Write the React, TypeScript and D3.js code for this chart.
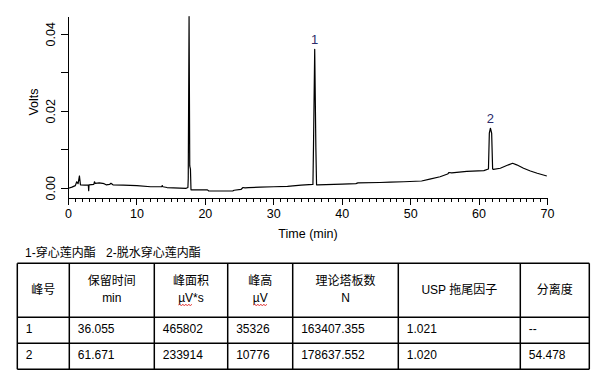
import React from 'react';
import * as d3 from 'd3';

// chromatogram trace: [time (min), signal (V)]
const trace: [number, number][] = [
  [0, 0.0], [0.5, 0.0003], [1.0, 0.0007], [1.2, 0.0017], [1.4, 0.0012], [1.6, 0.0032],
  [1.75, 0.0009], [2.4, 0.0008], [2.9, 0.0008], [2.95, -0.0006], [3.0, 0.0009],
  [3.7, 0.001], [3.8, 0.0017], [3.9, 0.0013], [4.5, 0.0014], [5.2, 0.0012], [5.5, 0.0009],
  [6.0, 0.001], [6.2, 0.0013], [6.5, 0.0009], [8.0, 0.0008], [10.0, 0.0007], [12.0, 0.0004],
  [13.6, 0.0004], [13.7, 0.0007], [13.8, 0.0004], [14.4, 0.0002], [17.2, 0.0],
  [17.45, 0.0002], [17.5, 0.0026], [17.62, 0.0446], [17.72, 0.0058], [17.82, 0.005],
  [17.9, -0.0004], [20.3, -0.0004], [20.5, -0.0007], [24.0, -0.0007], [24.2, -0.0005],
  [25.2, -0.0003], [25.5, 0.0002], [25.8, 0.0001], [26.3, 0.0002], [28.0, 0.0003],
  [30.0, 0.0004], [32.0, 0.0005], [34.0, 0.0008], [35.72, 0.001], [35.8, 0.0105],
  [35.98, 0.0361], [36.15, 0.0105], [36.25, 0.0009], [36.4, 0.0009], [40.0, 0.0011],
  [42.0, 0.0012], [42.3, 0.0014], [45.5, 0.0015], [47.0, 0.0016], [49.0, 0.0017],
  [51.6, 0.0019], [52.8, 0.0024], [54.3, 0.003], [55.4, 0.0037], [55.6, 0.0041],
  [56.0, 0.004], [58.2, 0.0044], [60.7, 0.0046], [61.37, 0.005], [61.5, 0.0143],
  [61.66, 0.0156], [61.84, 0.0143], [61.98, 0.005], [62.1, 0.0049], [63.1, 0.0052],
  [64.3, 0.0061], [64.9, 0.0065], [65.5, 0.0061], [66.5, 0.0052], [67.5, 0.0045],
  [68.5, 0.0039], [69.9, 0.0032],
];

const peakLabels = [
  { label: '1', t: 35.98, v: 0.0361 },
  { label: '2', t: 61.66, v: 0.0156 },
];

const xMajorTicks = [0, 10, 20, 30, 40, 50, 60, 70];
const xMinorTicks = d3.range(0, 71, 1);
const yTicks = [0, 0.01, 0.02, 0.03, 0.04];
const yLabelTicks = [0, 0.02, 0.04];
const xTitle = 'Time (min)';
const yTitle = 'Volts';

const captionItems = ['1-穿心莲内酯', '2-脱水穿心莲内酯'];

const tableHeaders: string[][] = [
  ['峰号'],
  ['保留时间', 'min'],
  ['峰面积', 'µV*s'],
  ['峰高', 'µV'],
  ['理论塔板数', 'N'],
  ['USP 拖尾因子'],
  ['分离度'],
];
const tableRows: string[][] = [
  ['1', '36.055', '465802', '35326', '163407.355', '1.021', '--'],
  ['2', '61.671', '233914', '10776', '178637.552', '1.020', '54.478'],
];

// layout
const W = 603;
const H = 383;
const colEdges = [17.3, 69.3, 154.3, 227.7, 292.7, 398.3, 520.3, 589.3];
const rowEdges = [263.3, 317.3, 343.3, 369.3];
const FONT = '"Liberation Sans", Arial, "Noto Sans CJK SC", sans-serif';

export default function App() {
  const x = d3.scaleLinear().domain([0, 70]).range([68.5, 547.5]);
  const y = d3.scaleLinear().domain([0, 0.04]).range([188.3, 34.3]);
  const axisY = 198.5;
  const yTop = y(0.0446);

  const line = d3
    .line<[number, number]>()
    .x((d) => x(d[0]))
    .y((d) => y(d[1]));

  const squiggle = (x0: number, x1: number, yy: number) => {
    let p = `M${x0},${yy}`;
    let up = true;
    for (let xx = x0 + 1.5; xx <= x1; xx += 1.5) {
      p += `L${xx},${yy + (up ? -1 : 1)}`;
      up = !up;
    }
    return p;
  };

  return (
    <svg
      width={W}
      height={H}
      style={{ position: 'absolute', left: 0, top: 0, background: '#fff' }}
      fontFamily={FONT}
    >
      <rect width={W} height={H} fill="#fff" />
      {/* axes */}
      <g stroke="#000" strokeWidth={1} shapeRendering="crispEdges">
        <line x1={x(0)} x2={x(0)} y1={yTop} y2={axisY} />
        <line x1={x(0)} x2={x(70)} y1={axisY} y2={axisY} />
        {yTicks.map((t) => (
          <line key={'yt' + t} x1={x(0) - 8} x2={x(0)} y1={y(t)} y2={y(t)} />
        ))}
        {xMinorTicks.map((t) => (
          <line
            key={'xt' + t}
            x1={x(t)}
            x2={x(t)}
            y1={axisY}
            y2={axisY + (t % 10 === 0 ? 6 : 3)}
          />
        ))}
      </g>
      {xMajorTicks.map((t) => (
        <text key={'xl' + t} x={x(t)} y={218.3} fontSize={12.5} textAnchor="middle" fill="#000">
          {t}
        </text>
      ))}
      {yLabelTicks.map((t) => (
        <text
          key={'yl' + t}
          transform={`translate(54.5,${y(t)}) rotate(-90)`}
          fontSize={12.5}
          textAnchor="middle"
          fill="#000"
        >
          {t.toFixed(2)}
        </text>
      ))}
      <text x={308} y={237.5} fontSize={12.5} textAnchor="middle" fill="#000">
        {xTitle}
      </text>
      <text transform={`translate(38.3,102) rotate(-90)`} fontSize={12.5} textAnchor="middle" fill="#000">
        {yTitle}
      </text>
      {/* trace */}
      <path d={line(trace) || ''} fill="none" stroke="#000" strokeWidth={1.2} strokeLinejoin="round" />
      {peakLabels.map((p) => (
        <text key={p.label} x={x(p.t)} y={y(p.v) - 5} fontSize={13} textAnchor="middle" fill="#2b2b6b">
          {p.label}
        </text>
      ))}
      {/* caption */}
      <text x={25} y={257} fontSize={12} fill="#000">
        {captionItems[0]}
      </text>
      <text x={106} y={257} fontSize={12} fill="#000">
        {captionItems[1]}
      </text>
      {/* table */}
      <g stroke="#000" strokeWidth={1.5}>
        {rowEdges.map((ry, i) => (
          <line key={'r' + i} x1={colEdges[0]} x2={colEdges[colEdges.length - 1]} y1={ry} y2={ry} />
        ))}
        {colEdges.map((cx, i) => (
          <line key={'c' + i} x1={cx} x2={cx} y1={rowEdges[0]} y2={rowEdges[rowEdges.length - 1]} />
        ))}
      </g>
      {tableHeaders.map((lines, i) => {
        const cx = (colEdges[i] + colEdges[i + 1]) / 2;
        if (lines.length === 1) {
          return (
            <text key={'h' + i} x={cx} y={294} fontSize={12} textAnchor="middle" fill="#000">
              {lines[0]}
            </text>
          );
        }
        return (
          <g key={'h' + i}>
            <text x={cx} y={285.3} fontSize={12} textAnchor="middle" fill="#000">
              {lines[0]}
            </text>
            <text x={cx} y={302.2} fontSize={12} textAnchor="middle" fill="#000">
              {lines[1]}
            </text>
          </g>
        );
      })}
      {/* spell-check squiggles under µV */}
      <path d={squiggle(178.3, 192, 305)} fill="none" stroke="#e03030" strokeWidth={0.8} />
      <path d={squiggle(253.3, 268, 305)} fill="none" stroke="#e03030" strokeWidth={0.8} />
      {tableRows.map((row, r) =>
        row.map((cell, c) => (
          <text
            key={`d${r}-${c}`}
            x={colEdges[c] + 8.5}
            y={(rowEdges[r + 1] + rowEdges[r + 2]) / 2 + 2.3}
            fontSize={12}
            fill="#000"
          >
            {cell}
          </text>
        ))
      )}
    </svg>
  );
}
